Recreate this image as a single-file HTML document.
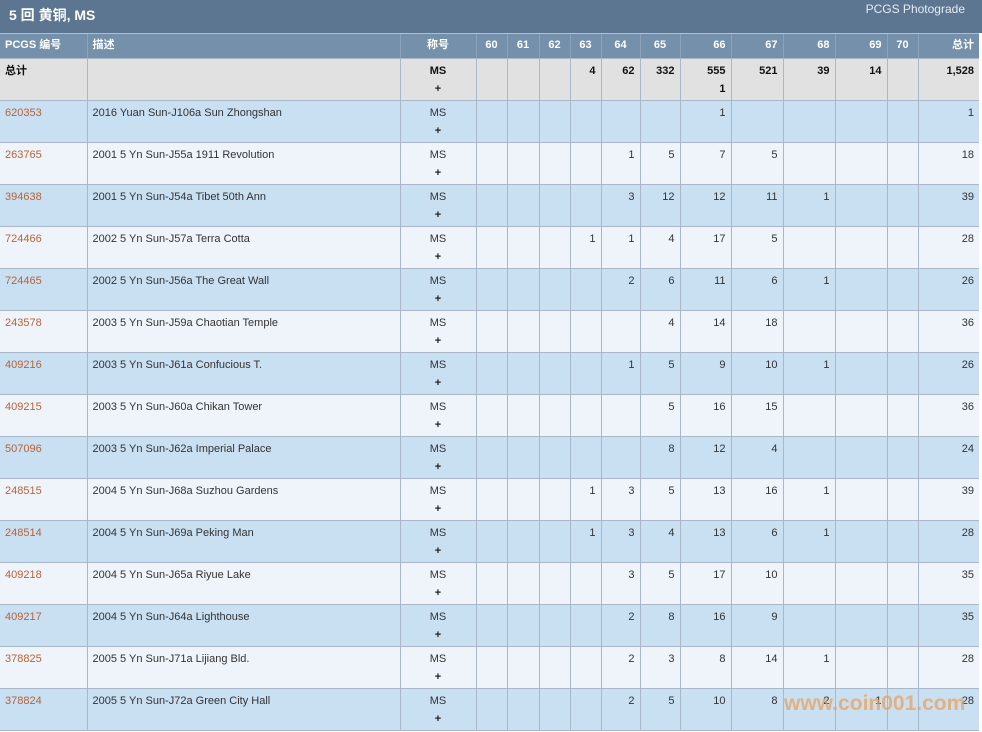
<!DOCTYPE html>
<html><head><meta charset="utf-8"><style>
body{margin:0;width:982px;height:732px;overflow:hidden;background:#fff;font-family:"Liberation Sans","Noto Sans CJK SC",sans-serif;}
.title{height:33px;background:#5c7590;color:#fff;position:relative;}
.title b{position:absolute;left:9px;top:5px;font-size:14px;}
.title span{position:absolute;right:17px;top:2px;font-size:12px;color:#e4ecf4;}
table{border-collapse:collapse;table-layout:fixed;width:979px;font-size:11px;}
td,th{border-left:1px solid #a9b8c8;border-bottom:1px solid #a9b8c8;padding:3px 5px 0 5px;vertical-align:top;line-height:18px;text-align:right;color:#333;overflow:hidden;white-space:nowrap;}
td:first-child,th:first-child{border-left:none;}
th{background:#7590aa;color:#fff;height:21px;font-size:11px;font-weight:bold;padding-top:2px;border-top:1px solid #a9c0d6;border-left:1px solid #8aa2ba;}
tr.h th.l{text-align:left;}
td.l{text-align:left;}
td.c,th.c{text-align:center;}
td.c b{font-weight:bold;color:#222;}
tr{height:42px;}
tr.h{height:25px;}
tr.t td{background:#e1e1e1;font-weight:bold;color:#111;}
tr.a td{background:#c9dff2;}
tr.b td{background:#eef4fa;}
td.id{color:#b5643a;}
.wm{position:absolute;left:784px;top:692px;font-size:21px;font-weight:bold;color:rgba(235,160,90,0.75);}
</style></head><body>
<div class="title"><b>5 回 黄铜, MS</b><span>PCGS Photograde</span></div>
<table>
<colgroup><col style="width:87px"><col style="width:313px"><col style="width:76px"><col style="width:31px"><col style="width:32px"><col style="width:31px"><col style="width:31px"><col style="width:39px"><col style="width:40px"><col style="width:51px"><col style="width:52px"><col style="width:52px"><col style="width:52px"><col style="width:31px"><col style="width:61px"></colgroup>
<tr class="h"><th class="l">PCGS 编号</th><th class="l">描述</th><th class="c">称号</th><th class="c">60</th><th class="c">61</th><th class="c">62</th><th class="c">63</th><th class="c">64</th><th class="c">65</th><th>66</th><th>67</th><th>68</th><th>69</th><th class="c">70</th><th>总计</th></tr>
<tr class="t"><td class="l">总计</td><td></td><td class="c">MS<br><b>+</b></td><td></td><td></td><td></td><td>4</td><td>62</td><td>332</td><td>555<br>1</td><td>521</td><td>39</td><td>14</td><td></td><td>1,528</td></tr>
<tr class="a"><td class="l id">620353</td><td class="l">2016 Yuan Sun-J106a Sun Zhongshan</td><td class="c">MS<br><b>+</b></td><td></td><td></td><td></td><td></td><td></td><td></td><td>1</td><td></td><td></td><td></td><td></td><td>1</td></tr>
<tr class="b"><td class="l id">263765</td><td class="l">2001 5 Yn Sun-J55a 1911 Revolution</td><td class="c">MS<br><b>+</b></td><td></td><td></td><td></td><td></td><td>1</td><td>5</td><td>7</td><td>5</td><td></td><td></td><td></td><td>18</td></tr>
<tr class="a"><td class="l id">394638</td><td class="l">2001 5 Yn Sun-J54a Tibet 50th Ann</td><td class="c">MS<br><b>+</b></td><td></td><td></td><td></td><td></td><td>3</td><td>12</td><td>12</td><td>11</td><td>1</td><td></td><td></td><td>39</td></tr>
<tr class="b"><td class="l id">724466</td><td class="l">2002 5 Yn Sun-J57a Terra Cotta</td><td class="c">MS<br><b>+</b></td><td></td><td></td><td></td><td>1</td><td>1</td><td>4</td><td>17</td><td>5</td><td></td><td></td><td></td><td>28</td></tr>
<tr class="a"><td class="l id">724465</td><td class="l">2002 5 Yn Sun-J56a The Great Wall</td><td class="c">MS<br><b>+</b></td><td></td><td></td><td></td><td></td><td>2</td><td>6</td><td>11</td><td>6</td><td>1</td><td></td><td></td><td>26</td></tr>
<tr class="b"><td class="l id">243578</td><td class="l">2003 5 Yn Sun-J59a Chaotian Temple</td><td class="c">MS<br><b>+</b></td><td></td><td></td><td></td><td></td><td></td><td>4</td><td>14</td><td>18</td><td></td><td></td><td></td><td>36</td></tr>
<tr class="a"><td class="l id">409216</td><td class="l">2003 5 Yn Sun-J61a Confucious T.</td><td class="c">MS<br><b>+</b></td><td></td><td></td><td></td><td></td><td>1</td><td>5</td><td>9</td><td>10</td><td>1</td><td></td><td></td><td>26</td></tr>
<tr class="b"><td class="l id">409215</td><td class="l">2003 5 Yn Sun-J60a Chikan Tower</td><td class="c">MS<br><b>+</b></td><td></td><td></td><td></td><td></td><td></td><td>5</td><td>16</td><td>15</td><td></td><td></td><td></td><td>36</td></tr>
<tr class="a"><td class="l id">507096</td><td class="l">2003 5 Yn Sun-J62a Imperial Palace</td><td class="c">MS<br><b>+</b></td><td></td><td></td><td></td><td></td><td></td><td>8</td><td>12</td><td>4</td><td></td><td></td><td></td><td>24</td></tr>
<tr class="b"><td class="l id">248515</td><td class="l">2004 5 Yn Sun-J68a Suzhou Gardens</td><td class="c">MS<br><b>+</b></td><td></td><td></td><td></td><td>1</td><td>3</td><td>5</td><td>13</td><td>16</td><td>1</td><td></td><td></td><td>39</td></tr>
<tr class="a"><td class="l id">248514</td><td class="l">2004 5 Yn Sun-J69a Peking Man</td><td class="c">MS<br><b>+</b></td><td></td><td></td><td></td><td>1</td><td>3</td><td>4</td><td>13</td><td>6</td><td>1</td><td></td><td></td><td>28</td></tr>
<tr class="b"><td class="l id">409218</td><td class="l">2004 5 Yn Sun-J65a Riyue Lake</td><td class="c">MS<br><b>+</b></td><td></td><td></td><td></td><td></td><td>3</td><td>5</td><td>17</td><td>10</td><td></td><td></td><td></td><td>35</td></tr>
<tr class="a"><td class="l id">409217</td><td class="l">2004 5 Yn Sun-J64a Lighthouse</td><td class="c">MS<br><b>+</b></td><td></td><td></td><td></td><td></td><td>2</td><td>8</td><td>16</td><td>9</td><td></td><td></td><td></td><td>35</td></tr>
<tr class="b"><td class="l id">378825</td><td class="l">2005 5 Yn Sun-J71a Lijiang Bld.</td><td class="c">MS<br><b>+</b></td><td></td><td></td><td></td><td></td><td>2</td><td>3</td><td>8</td><td>14</td><td>1</td><td></td><td></td><td>28</td></tr>
<tr class="a"><td class="l id">378824</td><td class="l">2005 5 Yn Sun-J72a Green City Hall</td><td class="c">MS<br><b>+</b></td><td></td><td></td><td></td><td></td><td>2</td><td>5</td><td>10</td><td>8</td><td>2</td><td>1</td><td></td><td>28</td></tr>
</table>
<div class="wm">www.coin001.com</div>
</body></html>
